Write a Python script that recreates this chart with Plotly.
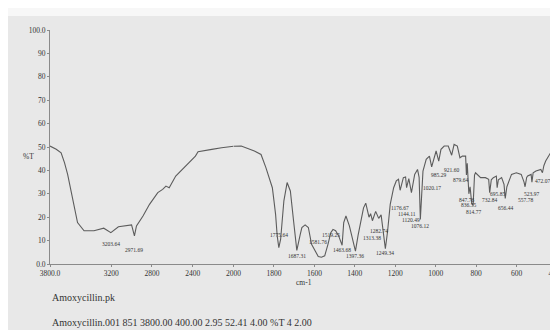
import plotly.graph_objects as go

# ---- spectrum data (wavenumber cm-1, %T) ----
wn_hi = [3800, 3739, 3691, 3658, 3627, 3595, 3562, 3530, 3466, 3369, 3273, 3203,
         3129, 3049, 3000, 2972, 2952, 2888, 2824, 2743, 2695, 2663, 2631, 2567,
         2471, 2374, 2348, 2294, 2213, 2117, 2000]
t_hi = [50.4, 49.0, 47.5, 43.3, 38.3, 31.2, 24.1, 17.7, 14.2, 14.2, 15.3, 13.4,
        15.9, 16.3, 16.7, 12.0, 16.3, 20.5, 25.5, 30.5, 31.9, 33.3, 32.6, 37.6,
        41.9, 46.1, 48.0, 48.3, 49.0, 49.7, 50.3]

wn_lo = [2000, 1962, 1897, 1864, 1840, 1808, 1800, 1792, 1784, 1776, 1767, 1751,
         1735, 1719, 1703, 1687, 1670, 1662, 1646, 1630, 1614, 1589, 1581, 1565,
         1549, 1533, 1519, 1508, 1495, 1480, 1463, 1455, 1444, 1427, 1411, 1397,
         1384, 1371, 1357, 1346, 1330, 1322, 1313, 1297, 1282, 1270, 1260, 1249,
         1238, 1225, 1208, 1195, 1184, 1176, 1160, 1149, 1144, 1133, 1120, 1104,
         1090, 1082, 1076, 1068, 1063, 1047, 1031, 1020, 1006, 998, 985, 974,
         958, 938, 921, 909, 893, 880, 868, 852, 848, 844, 836, 830, 822, 815,
         808, 803, 778, 754, 738, 733, 725, 715, 700, 696, 690, 674, 662, 656,
         648, 625, 601, 577, 563, 558, 550, 545, 528, 524, 518, 504, 480, 472,
         465, 456, 432, 415, 400]
t_lo = [50.3, 50.4, 48.3, 46.8, 41.2, 32.6, 27.0, 21.2, 12.0, 7.0, 10.6, 27.0,
        34.8, 31.2, 18.4, 5.8, 12.7, 15.6, 16.7, 15.6, 8.4, 4.2, 3.2, 2.9,
        3.5, 8.4, 13.4, 14.8, 14.2, 12.0, 8.0, 17.7, 20.5, 16.3, 10.4, 5.5,
        12.2, 18.4, 24.0, 26.0, 20.0, 21.5, 18.5, 22.5, 19.5, 21.0, 15.0, 6.5,
        14.0, 25.5, 32.6, 35.5, 36.2, 31.5, 36.9, 37.2, 32.6, 36.5, 30.5, 38.3,
        40.4, 37.0, 19.0, 35.0, 39.7, 44.7, 46.1, 41.5, 46.1, 48.3, 44.0, 49.0,
        50.4, 50.4, 46.5, 51.1, 50.4, 45.4, 46.1, 46.1, 38.0, 43.0, 30.0, 33.0, 26.0, 25.0,
        38.0, 39.0, 36.9, 36.9, 36.2, 30.5, 36.0, 36.9, 37.6, 32.6, 36.0, 36.9, 34.0, 28.0,
        33.0, 38.3, 39.0, 38.3, 35.0, 33.0, 37.0, 37.6, 38.3, 35.0, 39.0, 39.7, 40.4, 39.0,
        42.0, 44.0, 47.5, 50.4, 51.1]

# peak labels and the %T level where each label sits
peak_text = ["3203.64", "2971.69", "1775.64", "1687.31", "1581.76", "1519.25",
             "1463.68", "1397.36", "1313.38", "1282.74", "1249.34", "1176.67",
             "1144.11", "1120.49", "1076.12", "1020.17", "985.29", "921.60",
             "879.64", "847.76", "836.55", "814.77", "732.84", "695.85",
             "656.44", "557.78", "523.97", "472.07"]
peak_label_t = [8.4, 5.8, 12.2, 3.6, 9.2, 12.2, 5.8, 3.6, 11.3, 14.3, 4.9, 24.1,
                21.5, 19.0, 16.4, 32.6, 38.2, 40.3, 35.8, 27.3, 25.2, 22.2, 27.3, 29.9,
                23.9, 27.3, 29.9, 35.4]

x1_ticks = [3800, 3200, 2800, 2400, 2000]
x1_text = ["3800.0", "3200", "2800", "2400", "2000"]
x2_ticks = [1800, 1600, 1400, 1200, 1000, 800, 600, 400]
x2_text = ["1800", "1600", "1400", "1200", "1000", "800", "600", "400.0"]
y_ticks = [0, 10, 20, 30, 40, 50, 60, 70, 80, 90, 100]
y_text = ["0.0", "10", "20", "30", "40", "50", "60", "70", "80", "90", "100.0"]

SERIF = "Liberation Serif"
BG = "#e8e8e8"
LINE = "#5c5c5c"
AX = "#8a8a8a"
TXT = "#333333"

fig = go.Figure()
fig.add_trace(go.Scatter(x=wn_hi, y=t_hi, xaxis="x", yaxis="y", mode="lines",
                         line=dict(color=LINE, width=1.1), hoverinfo="skip"))
fig.add_trace(go.Scatter(x=wn_lo, y=t_lo, xaxis="x2", yaxis="y", mode="lines",
                         line=dict(color=LINE, width=1.1), hoverinfo="skip"))

split = (228.8 - 42) / 516
axis_common = dict(showgrid=False, zeroline=False, showline=True, linecolor=AX,
                   linewidth=1, ticks="outside", ticklen=2, tickcolor=AX,
                   ticklabeloverflow="allow",
                   tickfont=dict(family=SERIF, size=7.5, color=TXT))

annotations = []
for txt, ty in zip(peak_text, peak_label_t):
    w = float(txt)
    annotations.append(dict(x=w, y=ty, xref="x" if w > 2000 else "x2", yref="y",
                            text=txt, showarrow=False,
                            font=dict(family=SERIF, size=5.5, color="#333333")))

annotations += [
    dict(x=(12 - 42) / 516, y=(256 - 148) / 234, xref="paper", yref="paper",
         text="%T", showarrow=False, font=dict(family=SERIF, size=7.5, color=TXT)),
    dict(x=(300 - 42) / 516, y=(256 - 281) / 234, xref="paper", yref="paper",
         text="cm-1", showarrow=False, font=dict(family=SERIF, size=7.5, color=TXT)),
    dict(x=0.0, y=(256 - 297) / 234, xref="paper", yref="paper", xanchor="left",
         text="Amoxycillin.pk", showarrow=False,
         font=dict(family=SERIF, size=10, color="#333333")),
    dict(x=0.0, y=(256 - 322) / 234, xref="paper", yref="paper", xanchor="left",
         text="Amoxycillin.001 851 3800.00 400.00 2.95 52.41 4.00 %T 4 2.00",
         showarrow=False, font=dict(family=SERIF, size=10, color="#333333")),
]

fig.update_layout(
    width=558, height=330,
    margin=dict(l=42, r=0, t=22, b=74),
    paper_bgcolor=BG, plot_bgcolor=BG,
    showlegend=False,
    xaxis=dict(domain=[0, split], range=[3800, 2000], tickvals=x1_ticks,
               ticktext=x1_text, anchor="y", **axis_common),
    xaxis2=dict(domain=[split, 1], range=[2000, 400], tickvals=x2_ticks,
                ticktext=x2_text, anchor="y", **axis_common),
    yaxis=dict(domain=[0, 1], range=[0, 100], tickvals=y_ticks, ticktext=y_text,
               anchor="x", **axis_common),
    annotations=annotations,
    shapes=[dict(type="rect", xref="paper", yref="paper",
                 x0=-0.1, x1=1.1, y0=1 + 14 / 234, y1=1 + 23 / 234,
                 fillcolor="#f7f7f7", line=dict(width=0), layer="below")],
)

fig.write_html("out.html")
